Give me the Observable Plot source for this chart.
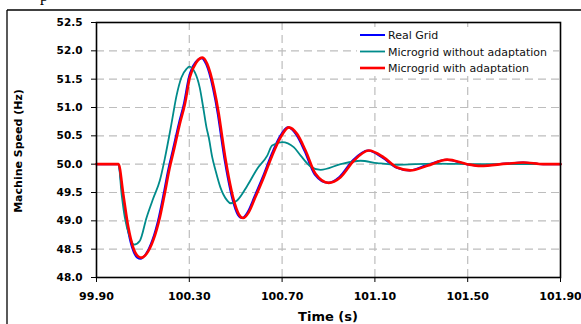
<!DOCTYPE html>
<html>
<head>
<meta charset="utf-8">
<script src="https://cdn.jsdelivr.net/npm/d3@7"></script>
<script src="https://cdn.jsdelivr.net/npm/@observablehq/plot@0.6"></script>
<style>
  html, body { margin: 0; padding: 0; background: white; }
  svg { display: block; }
</style>
</head>
<body>
<div id="chart"></div>
<script>
const xTicks = [99.90, 100.30, 100.70, 101.10, 101.50, 101.90];
const yTicks = [48.0, 48.5, 49.0, 49.5, 50.0, 50.5, 51.0, 51.5, 52.0, 52.5];
const seriesNames = ["Real Grid", "Microgrid without adaptation", "Microgrid with adaptation"];
const seriesColors = ["#0000ff", "#008b8b", "#ff0000"];
const seriesWidths = [2, 1.8, 2.6];

// Real Grid
const blueT = [99.90, 99.993, 100.012, 100.033, 100.054, 100.076, 100.090, 100.112, 100.140, 100.169, 100.190, 100.209, 100.229, 100.255, 100.277, 100.298, 100.327, 100.353, 100.373, 100.402, 100.423, 100.438, 100.452, 100.466, 100.488, 100.509, 100.528, 100.552, 100.581, 100.617, 100.653, 100.689, 100.725, 100.761, 100.797, 100.840, 100.897, 100.948, 101.005, 101.070, 101.134, 101.192, 101.249, 101.321, 101.408, 101.494, 101.551, 101.666, 101.736, 101.823, 101.900];
const blueV = [50.00, 50.00, 49.50, 48.90, 48.52, 48.35, 48.33, 48.41, 48.65, 49.07, 49.49, 49.90, 50.25, 50.72, 51.07, 51.53, 51.80, 51.87, 51.76, 51.34, 50.88, 50.46, 50.08, 49.76, 49.35, 49.11, 49.05, 49.16, 49.43, 49.78, 50.16, 50.48, 50.65, 50.52, 50.23, 49.82, 49.67, 49.78, 50.07, 50.24, 50.11, 49.94, 49.89, 49.98, 50.08, 50.00, 49.97, 50.01, 50.03, 50.00, 50.00];

// Microgrid without adaptation
const tealT = [99.90, 99.995, 100.008, 100.022, 100.044, 100.062, 100.087, 100.116, 100.144, 100.173, 100.194, 100.223, 100.245, 100.266, 100.288, 100.300, 100.324, 100.345, 100.360, 100.374, 100.384, 100.399, 100.413, 100.434, 100.463, 100.478, 100.506, 100.550, 100.593, 100.636, 100.657, 100.700, 100.750, 100.780, 100.822, 100.866, 100.952, 101.038, 101.110, 101.196, 101.353, 101.550, 101.900];
const tealV = [50.00, 50.00, 49.48, 49.06, 48.71, 48.58, 48.65, 49.06, 49.39, 49.71, 50.09, 50.71, 51.21, 51.53, 51.68, 51.72, 51.62, 51.35, 51.00, 50.65, 50.47, 50.12, 49.89, 49.59, 49.36, 49.31, 49.36, 49.62, 49.92, 50.15, 50.33, 50.39, 50.30, 50.15, 49.96, 49.90, 50.00, 50.06, 50.02, 49.99, 50.01, 50.00, 50.00];

// Microgrid with adaptation
const redT = [99.90, 99.995, 100.015, 100.037, 100.058, 100.080, 100.094, 100.116, 100.144, 100.173, 100.194, 100.213, 100.233, 100.259, 100.281, 100.302, 100.331, 100.357, 100.377, 100.406, 100.427, 100.442, 100.456, 100.470, 100.492, 100.513, 100.532, 100.556, 100.585, 100.621, 100.657, 100.693, 100.729, 100.765, 100.801, 100.844, 100.901, 100.952, 101.009, 101.074, 101.138, 101.196, 101.253, 101.325, 101.412, 101.498, 101.555, 101.670, 101.740, 101.827, 101.900];
const redV = [50.00, 50.00, 49.48, 48.89, 48.53, 48.37, 48.35, 48.42, 48.65, 49.06, 49.48, 49.89, 50.24, 50.71, 51.06, 51.53, 51.80, 51.88, 51.77, 51.35, 50.89, 50.47, 50.09, 49.77, 49.36, 49.12, 49.05, 49.15, 49.42, 49.77, 50.15, 50.47, 50.65, 50.53, 50.24, 49.83, 49.67, 49.77, 50.06, 50.24, 50.12, 49.94, 49.89, 49.97, 50.08, 50.00, 49.97, 50.01, 50.03, 50.00, 50.00];

const seriesT = [blueT, tealT, redT];
const seriesV = [blueV, tealV, redV];
const lineData = seriesT.map((ts, i) => ts.map((t, j) => ({t, v: seriesV[i][j]})));

const W = 581, H = 324;
const mL = 96, mR = 21, mT = 22, mB = 47;

const plot = Plot.plot({
  width: W, height: H,
  marginLeft: mL, marginRight: mR, marginTop: mT, marginBottom: mB,
  style: {fontFamily: "DejaVu Sans", fontWeight: "bold", fontSize: "10.5px", background: "white", color: "black"},
  x: {domain: [99.9, 101.9], ticks: xTicks, tickFormat: d => d.toFixed(2), tickSize: 5, tickPadding: 10, label: null},
  y: {domain: [48, 52.5], ticks: yTicks, tickFormat: d => d.toFixed(1), tickSize: 5, tickPadding: 9, label: null},
  marks: [
    Plot.ruleY(yTicks.slice(1, -1), {stroke: "#bdbdbd", strokeWidth: 1.2, strokeDasharray: "8,5"}),
    Plot.ruleX(xTicks.slice(1, -1), {stroke: "#bdbdbd", strokeWidth: 1.2, strokeDasharray: "8,5"}),
    ...lineData.map((d, i) => Plot.line(d, {x: "t", y: "v", stroke: seriesColors[i], strokeWidth: seriesWidths[i], curve: "monotone-x"})),
    Plot.frame({stroke: "black", strokeWidth: 1.6})
  ]
});

document.getElementById("chart").appendChild(plot);
const svg = d3.select(plot);
svg.style("overflow", "hidden");
svg.selectAll("g[aria-label^='x-axis'] text").style("font-size", "11px");

// outer figure border (clipped by the image)
svg.append("line").attr("x1", 7).attr("x2", 7).attr("y1", 10).attr("y2", H).attr("stroke", "black").attr("stroke-width", 1.3);
svg.append("line").attr("x1", 7).attr("x2", W).attr("y1", 10).attr("y2", 10).attr("stroke", "black").attr("stroke-width", 1.3);
// fragment of preceding text
svg.append("text").attr("x", 40).attr("y", 1).attr("text-anchor", "start").text("p")
  .style("font-family", "Liberation Serif").style("font-weight", "normal").style("font-size", "16px");

// axis titles
svg.append("text").attr("transform", "translate(22,151) rotate(-90)").attr("text-anchor", "middle")
  .style("font-family", "DejaVu Sans").style("font-weight", "bold").style("font-size", "11px").text("Machine Speed (Hz)");
svg.append("text").attr("x", (mL + W - mR) / 2).attr("y", 321).attr("text-anchor", "middle")
  .style("font-family", "DejaVu Sans").style("font-weight", "bold").style("font-size", "13px").text("Time (s)");

// legend
const lg = svg.append("g");
lg.append("rect").attr("x", 357).attr("y", 27).attr("width", 196).attr("height", 49).attr("fill", "white");
const rowsY = [35, 51.5, 68];
seriesNames.forEach((name, i) => {
  lg.append("line").attr("x1", 360).attr("x2", 385).attr("y1", rowsY[i]).attr("y2", rowsY[i])
    .attr("stroke", seriesColors[i]).attr("stroke-width", seriesWidths[i]);
  lg.append("text").attr("x", 388).attr("y", rowsY[i] + 4).attr("text-anchor", "start").text(name)
    .style("font-family", "DejaVu Sans").style("font-weight", "normal").style("font-size", "11px").attr("fill", "#111");
});
</script>
</body>
</html>
